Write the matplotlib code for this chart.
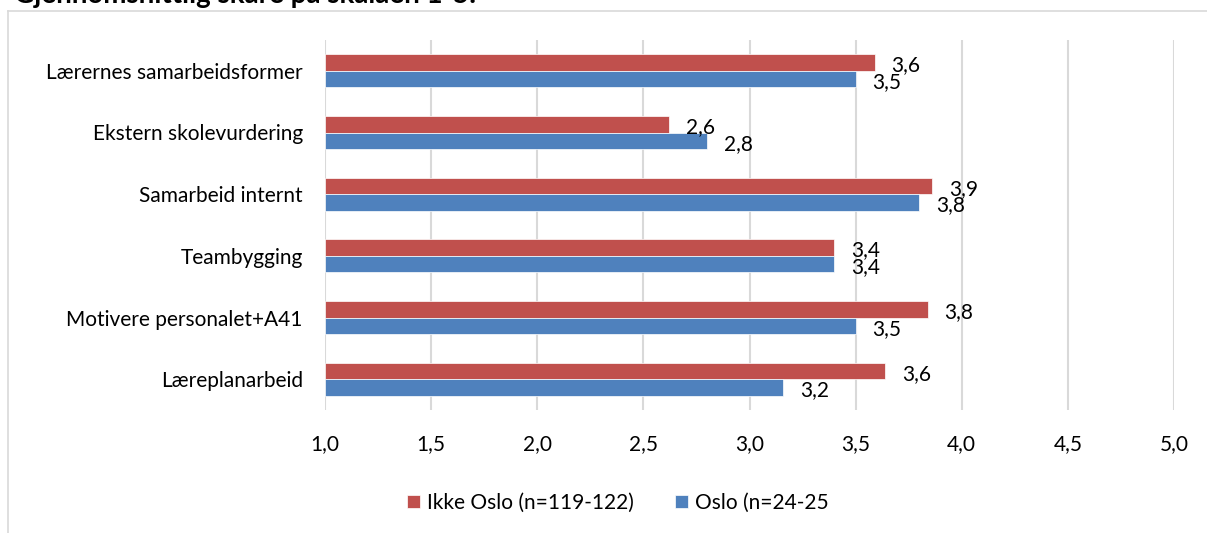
import matplotlib
matplotlib.use("Agg")
import matplotlib.pyplot as plt
import numpy as np
from matplotlib.lines import Line2D
from matplotlib.ticker import FuncFormatter

plt.rcParams["font.family"] = ["Lato", "DejaVu Sans"]

# data (top to bottom as shown)
categories = ["Lærernes samarbeidsformer", "Ekstern skolevurdering", "Samarbeid internt",
              "Teambygging", "Motivere personalet+A41", "Læreplanarbeid"]
ikke_oslo = [3.59, 2.62, 3.86, 3.40, 3.84, 3.64]
oslo = [3.50, 2.80, 3.80, 3.40, 3.50, 3.16]
series_names = ["Ikke Oslo (n=119-122)", "Oslo (n=24-25"]
xticks = [1.0, 1.5, 2.0, 2.5, 3.0, 3.5, 4.0, 4.5, 5.0]

red = "#C0504D"
blue = "#4F81BD"
fs = 15

fig = plt.figure(figsize=(12.07, 5.33), dpi=100)
ax = fig.add_axes([325 / 1207, 1 - 410 / 533, 849 / 1207, 370 / 533])

n = len(categories)
y = np.arange(n)[::-1]
h = 0.27

b1 = ax.barh(y + h / 2, [v - 1 for v in ikke_oslo], left=1, height=h, color=red,
             edgecolor="white", linewidth=0.5, label=series_names[0], zorder=3)
b2 = ax.barh(y - h / 2, [v - 1 for v in oslo], left=1, height=h, color=blue,
             edgecolor="white", linewidth=0.5, label=series_names[1], zorder=3)

# verdietiketter til høyre for stolpene
for vals, yy in [(ikke_oslo, y + h / 2), (oslo, y - h / 2)]:
    for v, yp in zip(vals, yy):
        ax.annotate(f"{v:.1f}".replace(".", ","), (v, yp), xytext=(12, -2),
                    textcoords="offset points", ha="left", va="center", fontsize=fs, zorder=4)

ax.set_xlim(1, 5)
ax.set_ylim(-0.5, n - 0.5)
ax.set_xticks(xticks)
ax.xaxis.set_major_formatter(FuncFormatter(lambda x, p: f"{x:.1f}".replace(".", ",")))
ax.set_yticks(y)
ax.set_yticklabels(categories)
ax.tick_params(axis="both", length=0, labelsize=fs)
ax.tick_params(axis="x", pad=17)
ax.tick_params(axis="y", pad=16)
ax.grid(axis="x", color="#d9d9d9", linewidth=1.5, zorder=0)
for s in ax.spines.values():
    s.set_visible(False)

fig.legend(handles=[b1, b2], loc="center", bbox_to_anchor=(0.512, 1 - 503 / 533), ncol=2,
           frameon=False, fontsize=fs, handlelength=0.6, handleheight=0.6,
           handletextpad=0.35, columnspacing=2.0)

# ramme rundt diagrammet
fig.add_artist(Line2D([8 / 1207, 1], [1 - 11 / 533, 1 - 11 / 533], color="#d9d9d9", lw=1.2))
fig.add_artist(Line2D([8 / 1207, 8 / 1207], [0, 1 - 11 / 533], color="#d9d9d9", lw=1.2))

# tittel, kuttet i toppen som i originalen
fig.text(14 / 1207, 1 - 3 / 533, "Gjennomsnittlig skåre på skalaen 1-5.", fontsize=20,
         fontweight="bold", ha="left", va="baseline")

fig.savefig("out.png", dpi=100)
